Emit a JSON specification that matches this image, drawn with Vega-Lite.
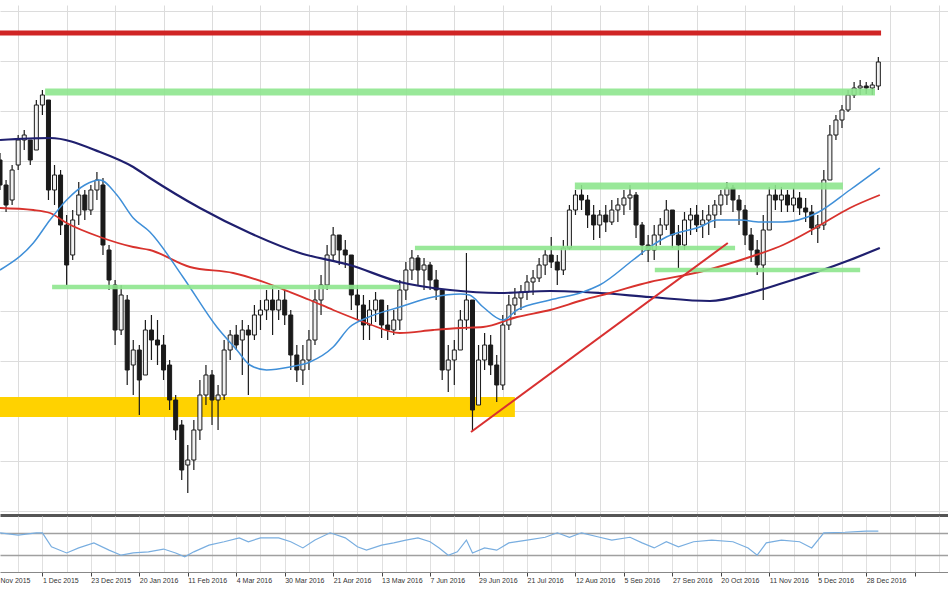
{
"$schema": "https://vega.github.io/schema/vega-lite/v6.json",
"padding": {"top": 5, "left": 0, "right": 0, "bottom": 0},
"background": "white",
"bounds": "flush",
"spacing": 1,
"config": {"view": {"stroke": null}},
"datasets": {
"px": [
{"i":0,"o":11404,"h":11432,"l":11284,"c":11304},
{"i":2,"o":11304,"h":11324,"l":11196,"c":11224},
{"i":4,"o":11244,"h":11384,"l":11224,"c":11364},
{"i":6,"o":11384,"h":11504,"l":11364,"c":11484},
{"i":8,"o":11484,"h":11524,"l":11444,"c":11504},
{"i":10,"o":11484,"h":11484,"l":11384,"c":11404},
{"i":12,"o":11444,"h":11644,"l":11444,"c":11624},
{"i":14,"o":11624,"h":11684,"l":11584,"c":11664},
{"i":16,"o":11644,"h":11644,"l":11244,"c":11284},
{"i":18,"o":11284,"h":11384,"l":11224,"c":11344},
{"i":20,"o":11344,"h":11364,"l":11104,"c":11144},
{"i":22,"o":11144,"h":11184,"l":10904,"c":10984},
{"i":24,"o":11024,"h":11204,"l":11004,"c":11164},
{"i":26,"o":11184,"h":11316,"l":11144,"c":11264},
{"i":28,"o":11264,"h":11284,"l":11164,"c":11204},
{"i":30,"o":11204,"h":11304,"l":11184,"c":11284},
{"i":32,"o":11284,"h":11356,"l":11244,"c":11324},
{"i":34,"o":11304,"h":11332,"l":11024,"c":11064},
{"i":36,"o":11044,"h":11064,"l":10884,"c":10924},
{"i":38,"o":10904,"h":10924,"l":10664,"c":10724},
{"i":40,"o":10724,"h":10904,"l":10704,"c":10864},
{"i":42,"o":10844,"h":10864,"l":10504,"c":10564},
{"i":44,"o":10584,"h":10684,"l":10464,"c":10644},
{"i":46,"o":10644,"h":10664,"l":10384,"c":10524},
{"i":48,"o":10544,"h":10764,"l":10544,"c":10724},
{"i":50,"o":10724,"h":10784,"l":10604,"c":10684},
{"i":52,"o":10684,"h":10764,"l":10584,"c":10664},
{"i":54,"o":10664,"h":10704,"l":10524,"c":10564},
{"i":56,"o":10584,"h":10604,"l":10404,"c":10444},
{"i":58,"o":10444,"h":10464,"l":10284,"c":10324},
{"i":60,"o":10344,"h":10364,"l":10124,"c":10164},
{"i":62,"o":10184,"h":10264,"l":10072,"c":10204},
{"i":64,"o":10204,"h":10364,"l":10164,"c":10324},
{"i":66,"o":10324,"h":10524,"l":10284,"c":10464},
{"i":68,"o":10464,"h":10584,"l":10424,"c":10544},
{"i":70,"o":10544,"h":10564,"l":10344,"c":10444},
{"i":72,"o":10444,"h":10504,"l":10324,"c":10464},
{"i":74,"o":10464,"h":10684,"l":10444,"c":10644},
{"i":76,"o":10644,"h":10724,"l":10604,"c":10704},
{"i":78,"o":10704,"h":10744,"l":10644,"c":10664},
{"i":80,"o":10684,"h":10764,"l":10544,"c":10724},
{"i":82,"o":10724,"h":10744,"l":10464,"c":10704},
{"i":84,"o":10704,"h":10824,"l":10684,"c":10784},
{"i":86,"o":10784,"h":10844,"l":10724,"c":10804},
{"i":88,"o":10804,"h":10884,"l":10764,"c":10844},
{"i":90,"o":10844,"h":10904,"l":10704,"c":10804},
{"i":92,"o":10804,"h":10884,"l":10764,"c":10844},
{"i":94,"o":10844,"h":10884,"l":10744,"c":10784},
{"i":96,"o":10784,"h":10804,"l":10564,"c":10624},
{"i":98,"o":10624,"h":10664,"l":10516,"c":10564},
{"i":100,"o":10564,"h":10664,"l":10504,"c":10604},
{"i":102,"o":10604,"h":10724,"l":10564,"c":10684},
{"i":104,"o":10684,"h":10884,"l":10664,"c":10844},
{"i":106,"o":10844,"h":10944,"l":10784,"c":10904},
{"i":108,"o":10904,"h":11064,"l":10884,"c":11024},
{"i":110,"o":11024,"h":11136,"l":11004,"c":11104},
{"i":112,"o":11104,"h":11104,"l":10984,"c":11044},
{"i":114,"o":11044,"h":11084,"l":10972,"c":11024},
{"i":116,"o":11024,"h":11024,"l":10804,"c":10864},
{"i":118,"o":10864,"h":10904,"l":10764,"c":10824},
{"i":120,"o":10824,"h":10864,"l":10684,"c":10744},
{"i":122,"o":10744,"h":10844,"l":10684,"c":10804},
{"i":124,"o":10804,"h":10876,"l":10756,"c":10844},
{"i":126,"o":10844,"h":10844,"l":10692,"c":10744},
{"i":128,"o":10744,"h":10824,"l":10684,"c":10724},
{"i":130,"o":10724,"h":10804,"l":10704,"c":10764},
{"i":132,"o":10764,"h":10924,"l":10724,"c":10884},
{"i":134,"o":10884,"h":10996,"l":10844,"c":10964},
{"i":136,"o":10964,"h":11044,"l":10924,"c":11012},
{"i":138,"o":11012,"h":11024,"l":10904,"c":10964},
{"i":140,"o":10964,"h":11012,"l":10884,"c":10984},
{"i":142,"o":10984,"h":10996,"l":10884,"c":10924},
{"i":144,"o":10924,"h":10964,"l":10844,"c":10884},
{"i":146,"o":10884,"h":10884,"l":10524,"c":10564},
{"i":148,"o":10564,"h":10664,"l":10476,"c":10604},
{"i":150,"o":10604,"h":10684,"l":10504,"c":10644},
{"i":152,"o":10644,"h":10804,"l":10644,"c":10764},
{"i":154,"o":10764,"h":11032,"l":10724,"c":10844},
{"i":156,"o":10844,"h":10844,"l":10324,"c":10404},
{"i":158,"o":10424,"h":10664,"l":10424,"c":10604},
{"i":160,"o":10604,"h":10712,"l":10564,"c":10664},
{"i":162,"o":10664,"h":10704,"l":10544,"c":10584},
{"i":164,"o":10584,"h":10624,"l":10436,"c":10504},
{"i":166,"o":10504,"h":10784,"l":10484,"c":10744},
{"i":168,"o":10744,"h":10864,"l":10724,"c":10824},
{"i":170,"o":10824,"h":10892,"l":10784,"c":10852},
{"i":172,"o":10852,"h":10904,"l":10804,"c":10876},
{"i":174,"o":10876,"h":10944,"l":10844,"c":10916},
{"i":176,"o":10916,"h":10964,"l":10864,"c":10932},
{"i":178,"o":10932,"h":11012,"l":10916,"c":10984},
{"i":180,"o":10984,"h":11044,"l":10944,"c":11024},
{"i":182,"o":11024,"h":11096,"l":10972,"c":10996},
{"i":184,"o":10996,"h":11024,"l":10904,"c":10964},
{"i":186,"o":10964,"h":11084,"l":10944,"c":11052},
{"i":188,"o":11052,"h":11224,"l":11044,"c":11204},
{"i":190,"o":11204,"h":11284,"l":11184,"c":11264},
{"i":192,"o":11264,"h":11304,"l":11204,"c":11244},
{"i":194,"o":11244,"h":11264,"l":11132,"c":11184},
{"i":196,"o":11184,"h":11224,"l":11084,"c":11144},
{"i":198,"o":11144,"h":11204,"l":11092,"c":11184},
{"i":200,"o":11184,"h":11224,"l":11116,"c":11156},
{"i":202,"o":11156,"h":11244,"l":11144,"c":11204},
{"i":204,"o":11204,"h":11252,"l":11156,"c":11224},
{"i":206,"o":11224,"h":11284,"l":11184,"c":11252},
{"i":208,"o":11252,"h":11304,"l":11204,"c":11264},
{"i":210,"o":11264,"h":11276,"l":11092,"c":11144},
{"i":212,"o":11144,"h":11156,"l":11024,"c":11064},
{"i":214,"o":11064,"h":11104,"l":10996,"c":11044},
{"i":216,"o":11044,"h":11144,"l":11004,"c":11104},
{"i":218,"o":11104,"h":11172,"l":11064,"c":11144},
{"i":220,"o":11144,"h":11244,"l":11124,"c":11204},
{"i":222,"o":11204,"h":11204,"l":11052,"c":11104},
{"i":224,"o":11104,"h":11144,"l":10972,"c":11064},
{"i":226,"o":11064,"h":11196,"l":11044,"c":11164},
{"i":228,"o":11164,"h":11212,"l":11104,"c":11184},
{"i":230,"o":11184,"h":11224,"l":11116,"c":11144},
{"i":232,"o":11144,"h":11204,"l":11092,"c":11164},
{"i":234,"o":11164,"h":11224,"l":11104,"c":11184},
{"i":236,"o":11184,"h":11244,"l":11132,"c":11224},
{"i":238,"o":11224,"h":11284,"l":11184,"c":11264},
{"i":240,"o":11264,"h":11316,"l":11224,"c":11292},
{"i":242,"o":11292,"h":11304,"l":11196,"c":11244},
{"i":244,"o":11244,"h":11264,"l":11144,"c":11204},
{"i":246,"o":11204,"h":11224,"l":11064,"c":11104},
{"i":248,"o":11104,"h":11132,"l":10996,"c":11044},
{"i":250,"o":11044,"h":11084,"l":10944,"c":10984},
{"i":252,"o":10984,"h":11184,"l":10844,"c":11124},
{"i":254,"o":11124,"h":11296,"l":11124,"c":11264},
{"i":256,"o":11264,"h":11304,"l":11204,"c":11244},
{"i":258,"o":11244,"h":11296,"l":11196,"c":11264},
{"i":260,"o":11264,"h":11284,"l":11196,"c":11224},
{"i":262,"o":11224,"h":11292,"l":11196,"c":11252},
{"i":264,"o":11252,"h":11276,"l":11184,"c":11212},
{"i":266,"o":11212,"h":11252,"l":11156,"c":11196},
{"i":268,"o":11196,"h":11224,"l":11104,"c":11132},
{"i":270,"o":11132,"h":11184,"l":11072,"c":11144},
{"i":272,"o":11144,"h":11364,"l":11124,"c":11324},
{"i":274,"o":11324,"h":11544,"l":11324,"c":11504},
{"i":276,"o":11504,"h":11584,"l":11484,"c":11564},
{"i":278,"o":11564,"h":11624,"l":11532,"c":11604},
{"i":280,"o":11604,"h":11684,"l":11596,"c":11664},
{"i":282,"o":11664,"h":11716,"l":11652,"c":11692},
{"i":284,"o":11692,"h":11724,"l":11664,"c":11700},
{"i":286,"o":11700,"h":11716,"l":11668,"c":11692},
{"i":288,"o":11692,"h":11716,"l":11664,"c":11704},
{"i":290,"o":11700,"h":11816,"l":11684,"c":11796}
],
"ma": [
{"i":0,"s":"long","v":11484},{"i":16.5,"s":"long","v":11492},{"i":33,"s":"long","v":11436},{"i":44,"s":"long","v":11376},{"i":49.5,"s":"long","v":11332},{"i":66,"s":"long","v":11212},{"i":82.5,"s":"long","v":11112},{"i":99,"s":"long","v":11032},{"i":115.5,"s":"long","v":10984},{"i":132,"s":"long","v":10916},{"i":148.6,"s":"long","v":10884},{"i":165,"s":"long","v":10872},{"i":181.6,"s":"long","v":10880},{"i":198,"s":"long","v":10872},{"i":214.6,"s":"long","v":10856},{"i":234.4,"s":"long","v":10840},{"i":247.6,"s":"long","v":10872},{"i":258.5,"s":"long","v":10912},{"i":269.7,"s":"long","v":10956},{"i":280.6,"s":"long","v":11004},{"i":290.5,"s":"long","v":11052},
{"i":0,"s":"mid","v":11212},{"i":11,"s":"mid","v":11204},{"i":16.5,"s":"mid","v":11192},{"i":22,"s":"mid","v":11152},{"i":33,"s":"mid","v":11096},{"i":44,"s":"mid","v":11056},{"i":49.5,"s":"mid","v":11044},{"i":62.7,"s":"mid","v":10976},{"i":77,"s":"mid","v":10952},{"i":88,"s":"mid","v":10912},{"i":95.7,"s":"mid","v":10876},{"i":102.3,"s":"mid","v":10844},{"i":110,"s":"mid","v":10804},{"i":121,"s":"mid","v":10752},{"i":132,"s":"mid","v":10712},{"i":143,"s":"mid","v":10724},{"i":152,"s":"mid","v":10732},{"i":159.5,"s":"mid","v":10736},{"i":170.7,"s":"mid","v":10776},{"i":181.6,"s":"mid","v":10804},{"i":192.5,"s":"mid","v":10844},{"i":201.4,"s":"mid","v":10872},{"i":214.6,"s":"mid","v":10916},{"i":231,"s":"mid","v":10956},{"i":247.6,"s":"mid","v":11016},{"i":258.5,"s":"mid","v":11064},{"i":269.7,"s":"mid","v":11136},{"i":280.6,"s":"mid","v":11212},{"i":290.5,"s":"mid","v":11264},
{"i":0,"s":"short","v":10964},{"i":11,"s":"short","v":11072},{"i":16.5,"s":"short","v":11164},{"i":22,"s":"short","v":11244},{"i":28,"s":"short","v":11304},{"i":33,"s":"short","v":11324},{"i":38.6,"s":"short","v":11264},{"i":44,"s":"short","v":11172},{"i":49.5,"s":"short","v":11116},{"i":60.4,"s":"short","v":10936},{"i":71.6,"s":"short","v":10736},{"i":78.2,"s":"short","v":10644},{"i":82.5,"s":"short","v":10584},{"i":88,"s":"short","v":10564},{"i":95.7,"s":"short","v":10576},{"i":102.3,"s":"short","v":10596},{"i":110,"s":"short","v":10656},{"i":115.5,"s":"short","v":10736},{"i":121,"s":"short","v":10772},{"i":132,"s":"short","v":10816},{"i":143,"s":"short","v":10856},{"i":152,"s":"short","v":10868},{"i":155,"s":"short","v":10864},{"i":159.5,"s":"short","v":10816},{"i":166,"s":"short","v":10764},{"i":170.7,"s":"short","v":10804},{"i":181.6,"s":"short","v":10844},{"i":192.5,"s":"short","v":10876},{"i":198,"s":"short","v":10904},{"i":209,"s":"short","v":11004},{"i":214.6,"s":"short","v":11056},{"i":220,"s":"short","v":11096},{"i":231,"s":"short","v":11136},{"i":236.7,"s":"short","v":11164},{"i":244.3,"s":"short","v":11164},{"i":251,"s":"short","v":11156},{"i":258.5,"s":"short","v":11156},{"i":269.7,"s":"short","v":11192},{"i":280.6,"s":"short","v":11284},{"i":290.5,"s":"short","v":11372}
],
"band": [{"x1":0,"x2":170,"v1":10376,"v2":10456}],
"gthick": [{"x1":14.9,"x2":288.9,"v":11676},{"x1":189.8,"x2":278.3,"v":11300}],
"gthin": [{"x1":137,"x2":242.7,"v":11052},{"x1":17.2,"x2":132,"v":10896},{"x1":216.2,"x2":284,"v":10964}],
"rline": [{"x1":0,"x2":290.9,"v":11912}],
"trend": [{"x1":155.5,"v1":10316,"x2":240.3,"v2":11072}],
"rsi": [
{"i":0,"r":70},{"i":6,"r":66},{"i":12,"r":70},{"i":14,"r":70},{"i":17,"r":45},{"i":22,"r":34},{"i":26,"r":43},{"i":31,"r":52},{"i":36,"r":39},{"i":40,"r":30},{"i":44,"r":34},{"i":49,"r":36},{"i":54,"r":41},{"i":58,"r":34},{"i":61,"r":27},{"i":64,"r":36},{"i":69,"r":48},{"i":74,"r":54},{"i":79,"r":61},{"i":82,"r":54},{"i":86,"r":61},{"i":92,"r":61},{"i":96,"r":54},{"i":100,"r":43},{"i":104,"r":57},{"i":109,"r":70},{"i":114,"r":61},{"i":118,"r":45},{"i":121,"r":39},{"i":126,"r":48},{"i":130,"r":52},{"i":134,"r":57},{"i":138,"r":61},{"i":142,"r":54},{"i":145,"r":43},{"i":148,"r":30},{"i":151,"r":36},{"i":154,"r":57},{"i":156,"r":34},{"i":160,"r":43},{"i":164,"r":39},{"i":168,"r":52},{"i":174,"r":57},{"i":180,"r":62},{"i":184,"r":70},{"i":188,"r":62},{"i":192,"r":70},{"i":198,"r":62},{"i":202,"r":57},{"i":208,"r":62},{"i":212,"r":52},{"i":216,"r":43},{"i":220,"r":54},{"i":224,"r":45},{"i":229,"r":54},{"i":235,"r":57},{"i":242,"r":54},{"i":247,"r":43},{"i":250,"r":30},{"i":253,"r":52},{"i":258,"r":57},{"i":264,"r":54},{"i":268,"r":43},{"i":272,"r":70},{"i":279,"r":71},{"i":286,"r":73},{"i":290,"r":73}
]
},
"vconcat": [
{
"width": 948,
"height": 510,
"layer": [
{"data": {"name": "band"}, "mark": {"type": "rect", "color": "#FFD200", "clip": true},
 "encoding": {
  "x": {"field": "x1", "type": "quantitative", "title": null, "scale": {"domain": [0, 313], "nice": false, "zero": false, "padding": 0},
        "axis": {"orient": "bottom", "title": null, "values": [6,14,22,30,38,46,54,62,70,78,86,94,102,110,118,126,134,142,150,158,166,174,182,190,198,206,214,222,230,238,246,254,262,270,278,286,294,302,310],
                 "grid": true, "gridColor": "#dcdcdc", "gridWidth": 1, "labels": false, "ticks": false, "domain": true, "domainColor": "#555555", "domainWidth": 3}},
  "x2": {"field": "x2"},
  "y": {"field": "v1", "type": "quantitative", "title": null, "scale": {"domain": [9984, 12024], "nice": false, "zero": false, "padding": 0},
        "axis": {"title": null, "values": [10000,10100,10200,10300,10400,10500,10600,10700,10800,10900,11000,11100,11200,11300,11400,11500,11600,11700,11800,11900,12000,12024],
                 "grid": true, "gridColor": {"condition": {"test": "datum.value > 12010", "value": "#9a9a9a"}, "value": "#dcdcdc"}, "gridWidth": 1,
                 "labels": false, "ticks": false, "domain": false, "minExtent": 0, "maxExtent": 0}},
  "y2": {"field": "v2"}
 }},
{"data": {"name": "px"}, "mark": {"type": "rule", "color": "#1a1a1a", "strokeWidth": 1.2, "clip": true},
 "encoding": {"x": {"field": "i", "type": "quantitative", "title": null}, "y": {"field": "l", "type": "quantitative", "title": null}, "y2": {"field": "h"}}},
{"data": {"name": "px"}, "mark": {"type": "bar", "size": 4, "stroke": "#1a1a1a", "strokeWidth": 1, "clip": true},
 "encoding": {"x": {"field": "i", "type": "quantitative", "title": null}, "y": {"field": "o", "type": "quantitative", "title": null}, "y2": {"field": "c"},
  "fill": {"condition": {"test": "datum.c > datum.o", "value": "#f2f2f2"}, "value": "#1a1a1a"}}},
{"data": {"name": "ma"}, "mark": {"type": "line", "interpolate": "monotone", "clip": true},
 "encoding": {"x": {"field": "i", "type": "quantitative", "title": null}, "y": {"field": "v", "type": "quantitative", "title": null},
  "color": {"field": "s", "type": "nominal", "scale": {"domain": ["long", "mid", "short"], "range": ["#1f1f6e", "#d8322d", "#3f8fd8"]}, "legend": null},
  "strokeWidth": {"field": "s", "type": "nominal", "scale": {"domain": ["long", "mid", "short"], "range": [2.2, 1.5, 1.4]}, "legend": null}}},
{"data": {"name": "gthick"}, "mark": {"type": "rule", "color": "#8ee68e", "strokeWidth": 7, "opacity": 0.9, "clip": true},
 "encoding": {"x": {"field": "x1", "type": "quantitative", "title": null}, "x2": {"field": "x2"}, "y": {"field": "v", "type": "quantitative", "title": null}}},
{"data": {"name": "gthin"}, "mark": {"type": "rule", "color": "#8ee68e", "strokeWidth": 4.5, "opacity": 0.9, "clip": true},
 "encoding": {"x": {"field": "x1", "type": "quantitative", "title": null}, "x2": {"field": "x2"}, "y": {"field": "v", "type": "quantitative", "title": null}}},
{"data": {"name": "rline"}, "mark": {"type": "rule", "color": "#d02525", "strokeWidth": 5, "clip": true},
 "encoding": {"x": {"field": "x1", "type": "quantitative", "title": null}, "x2": {"field": "x2"}, "y": {"field": "v", "type": "quantitative", "title": null}}},
{"data": {"name": "trend"}, "mark": {"type": "rule", "color": "#d83030", "strokeWidth": 2, "clip": true},
 "encoding": {"x": {"field": "x1", "type": "quantitative", "title": null}, "x2": {"field": "x2"}, "y": {"field": "v1", "type": "quantitative", "title": null}, "y2": {"field": "v2"}}}
]
},
{
"width": 948,
"height": 56,
"data": {"name": "rsi"},
"mark": {"type": "line", "color": "#79aee0", "strokeWidth": 1.2, "clip": true},
"encoding": {
 "x": {"field": "i", "type": "quantitative", "title": null, "scale": {"domain": [0, 313], "nice": false, "zero": false, "padding": 0},
       "axis": {"orient": "bottom", "title": null, "values": [0,6,14,22,30,38,46,54,62,70,78,86,94,102,110,118,126,134,142,150,158,166,174,182,190,198,206,214,222,230,238,246,254,262,270,278,286,294,302,310],
        "grid": true, "gridColor": "#e0e0e0", "gridOpacity": {"condition": {"test": "datum.value == 0", "value": 0}, "value": 1},
        "labelExpr": "datum.value == 0 ? 'Nov 2015' : (datum.value >= 14 && (datum.value - 14) % 16 == 0 ? ['1 Dec 2015','23 Dec 2015','20 Jan 2016','11 Feb 2016','4 Mar 2016','30 Mar 2016','21 Apr 2016','13 May 2016','7 Jun 2016','29 Jun 2016','21 Jul 2016','12 Aug 2016','5 Sep 2016','27 Sep 2016','20 Oct 2016','11 Nov 2016','5 Dec 2016','28 Dec 2016'][(datum.value - 14) / 16] : '')",
        "labelAlign": "left", "labelDx": 1, "labelFontSize": 7, "labelFont": "Liberation Sans", "labelColor": "#333333", "labelPadding": 0,
        "labelFlush": false, "labelOverlap": false, "labelBound": false,
        "tickSize": 4, "tickColor": "#444444", "tickOpacity": {"condition": {"test": "datum.value >= 14 && (datum.value - 14) % 16 == 0", "value": 1}, "value": 0},
        "domain": true, "domainColor": "#888888", "domainWidth": 1}},
 "y": {"field": "r", "type": "quantitative", "title": null, "scale": {"domain": [0, 100], "nice": false, "zero": false},
       "axis": {"title": null, "values": [30, 70], "grid": true, "gridColor": "#a0a0a0", "gridWidth": 1.5, "labels": false, "ticks": false, "domain": false, "minExtent": 0, "maxExtent": 0}}
}
}
]
}
